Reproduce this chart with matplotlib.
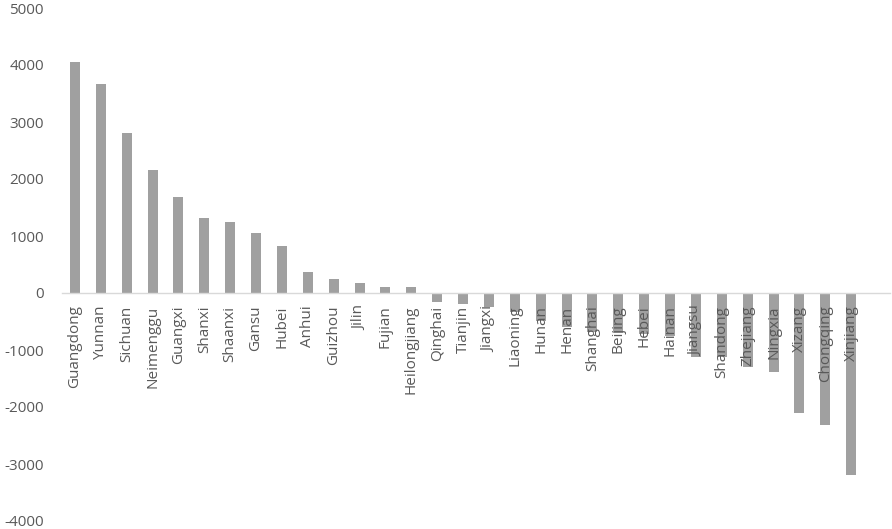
import matplotlib
matplotlib.use("Agg")
import matplotlib.pyplot as plt

provinces = ["Guangdong", "Yunnan", "Sichuan", "Neimenggu", "Guangxi", "Shanxi", "Shaanxi",
             "Gansu", "Hubei", "Anhui", "Guizhou", "Jilin", "Fujian", "Heilongjiang",
             "Qinghai", "Tianjin", "Jiangxi", "Liaoning", "Hunan", "Henan", "Shanghai",
             "Beijing", "Hebei", "Hainan", "Jiangsu", "Shandong", "Zhejiang", "Ningxia",
             "Xizang", "Chongqing", "Xinjiang"]
values = [4060, 3670, 2800, 2160, 1690, 1310, 1250,
          1050, 830, 370, 240, 175, 110, 110,
          -160, -190, -250, -340, -490, -600, -680,
          -700, -720, -760, -1120, -1130, -1300, -1390,
          -2110, -2310, -3200]
yticks = [-4000, -3000, -2000, -1000, 0, 1000, 2000, 3000, 4000, 5000]

plt.rcParams['font.family'] = ['Open Sans', 'DejaVu Sans']
plt.rcParams['axes.unicode_minus'] = False

fig = plt.figure(figsize=(8.92, 5.29), dpi=100)
ax = fig.add_axes([62/892, 8/529, (890-62)/892, (521-8)/529])

x = range(len(provinces))
ax.bar(x, values, width=0.39, color="#A0A0A0", zorder=1)
ax.set_xlim(-0.5, len(provinces) + 0.5)
ax.set_ylim(-4000, 5000)
ax.set_yticks(yticks)
ax.set_yticklabels([str(v) for v in yticks])

for s in ["left", "right", "top"]:
    ax.spines[s].set_visible(False)
ax.spines["bottom"].set_position(("data", 0))
ax.spines["bottom"].set_color("#D9D9D9")
ax.spines["bottom"].set_linewidth(1.0)

ax.set_xticks(list(x))
ax.set_xticklabels(provinces, rotation=90, va="top", ha="center")
ax.tick_params(axis="x", length=0, pad=9, labelsize=11, labelcolor="#595959")
ax.tick_params(axis="y", length=0, pad=13, labelsize=11, labelcolor="#595959")
for lbl in ax.get_xticklabels():
    lbl.set_zorder(5)

fig.savefig("out.png", dpi=100)
